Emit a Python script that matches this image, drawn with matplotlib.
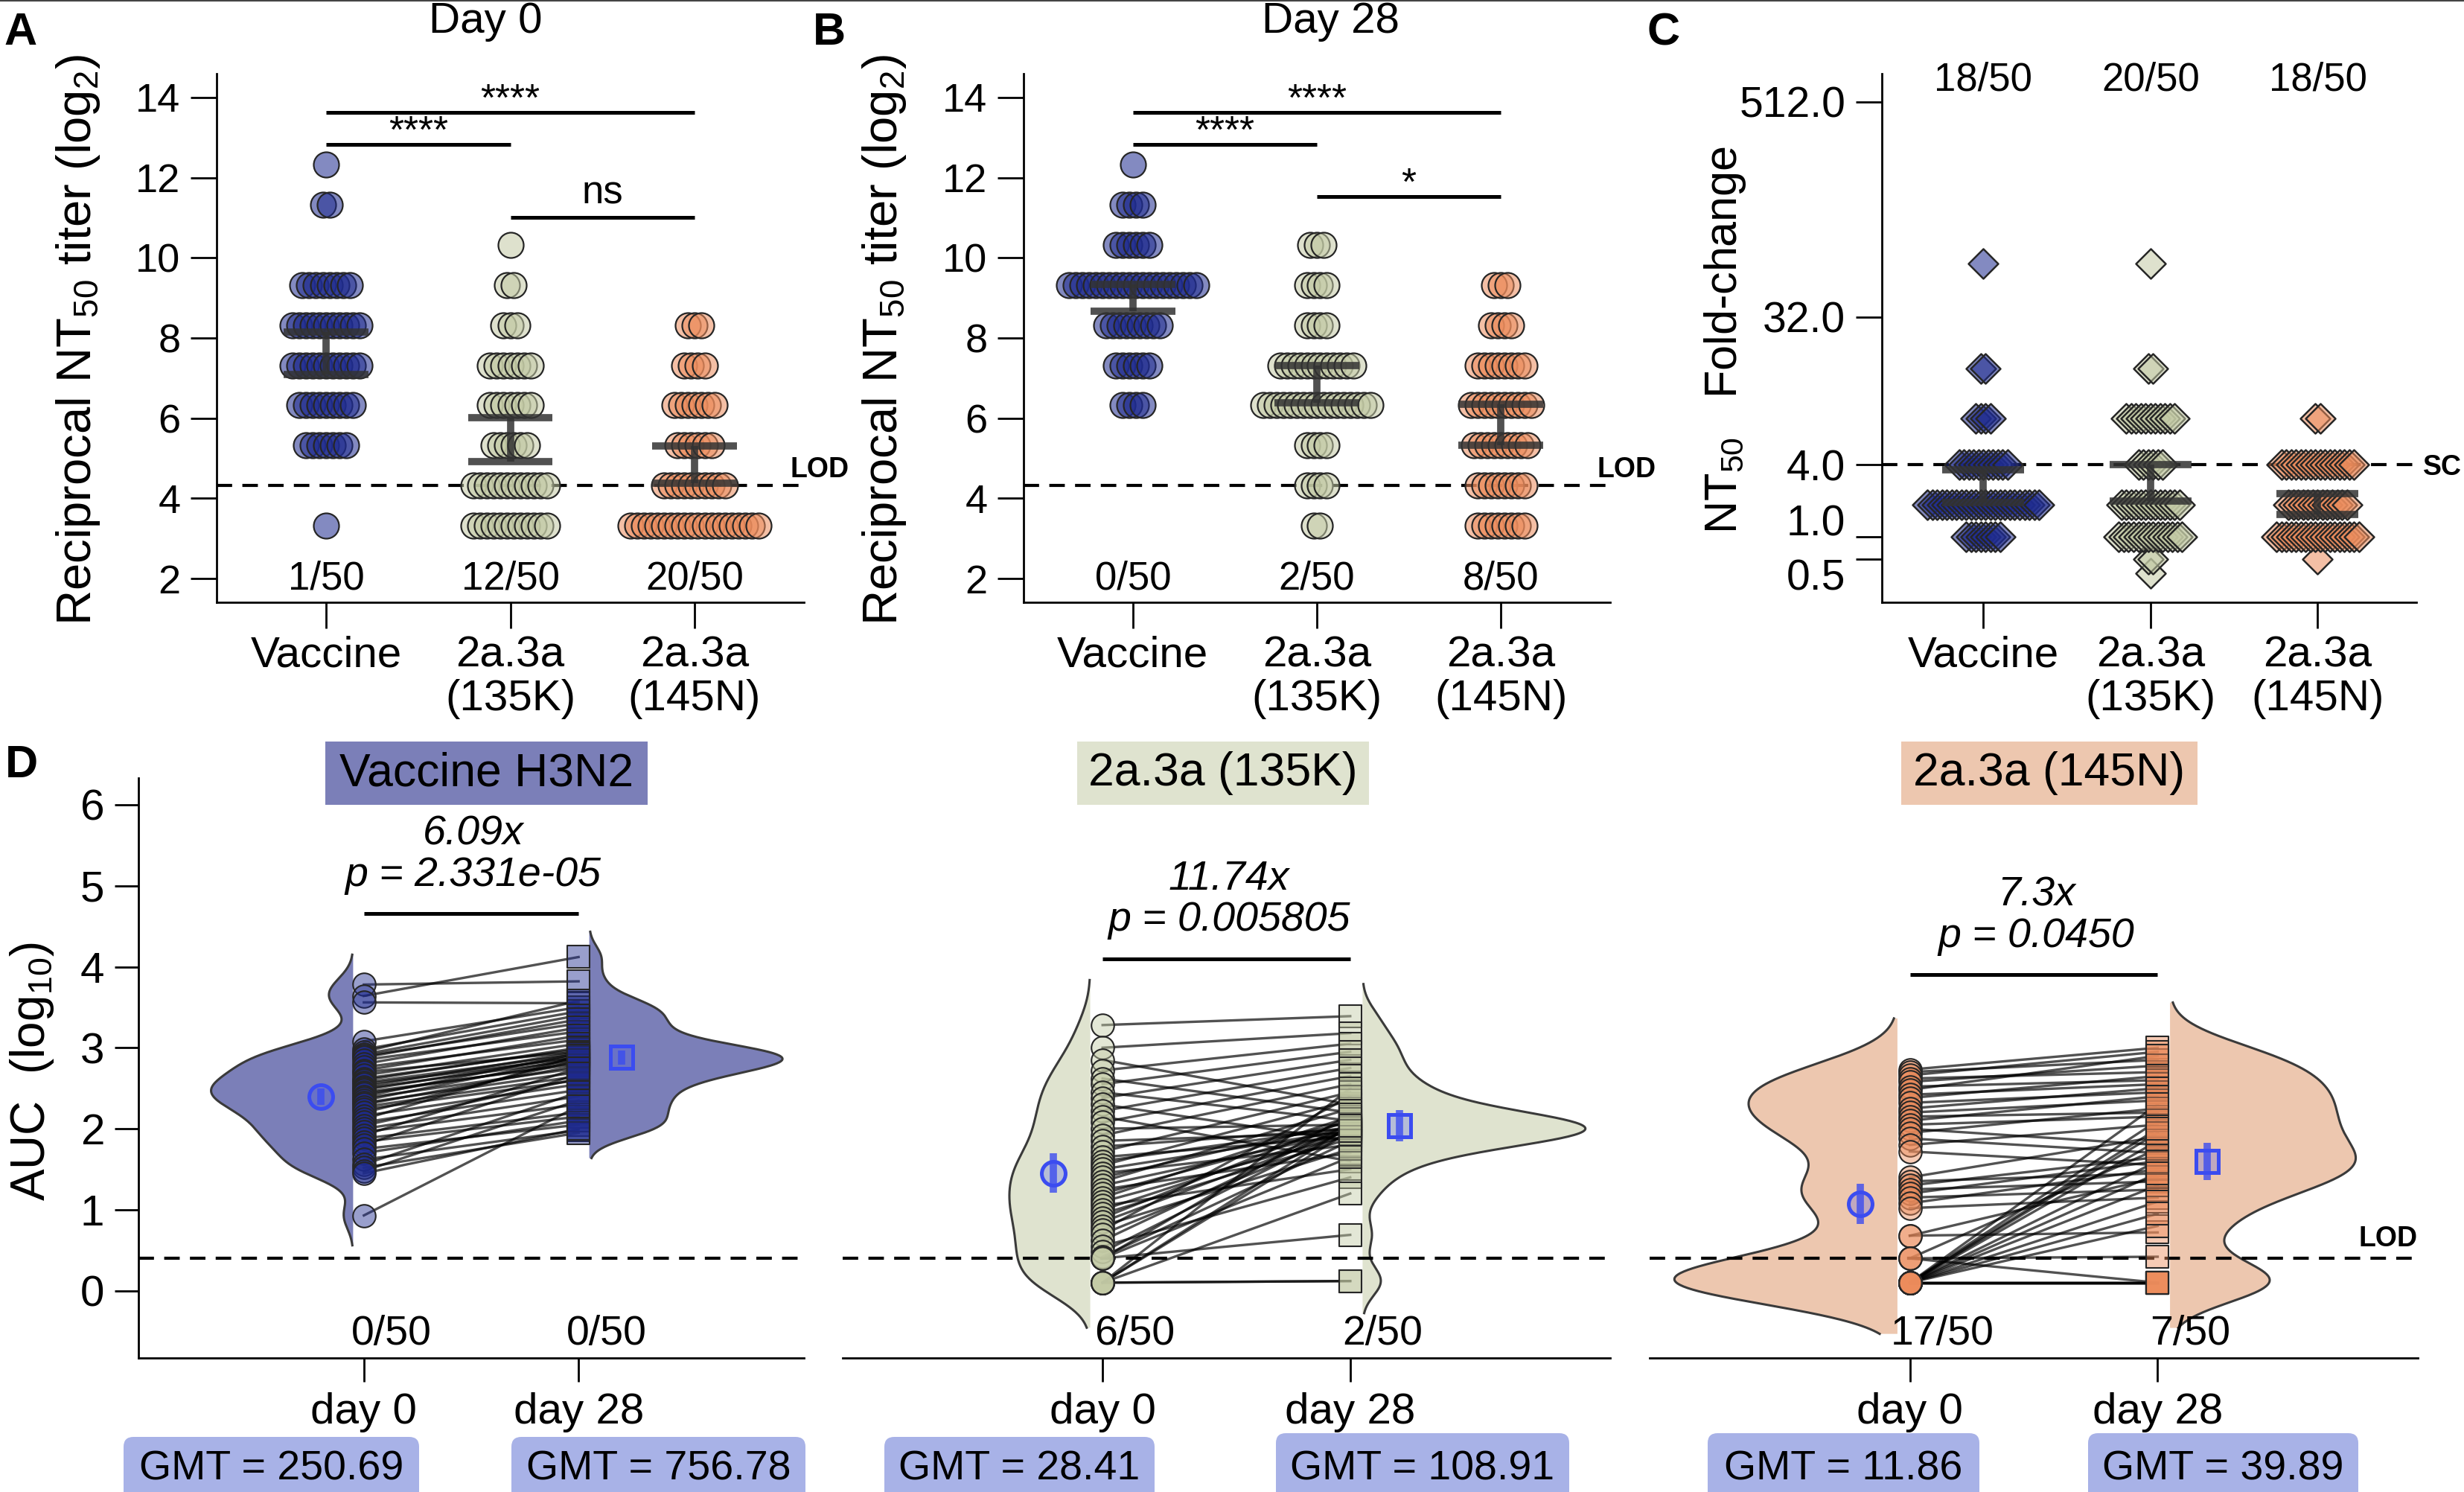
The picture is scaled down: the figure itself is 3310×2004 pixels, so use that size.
import numpy as np
import matplotlib
matplotlib.use("Agg")
import matplotlib.pyplot as plt
from matplotlib import mlab
from matplotlib.colors import to_rgba
from matplotlib.patches import Rectangle, FancyBboxPatch
from matplotlib.lines import Line2D
from matplotlib.transforms import ScaledTranslation

plt.rcParams['font.family'] = ['Liberation Sans', 'DejaVu Sans']
plt.rcParams['mathtext.fontset'] = 'custom'
plt.rcParams['mathtext.rm'] = 'Liberation Sans'
plt.rcParams['mathtext.it'] = 'Liberation Sans:italic'

W, H = 3310, 2004

# ---------------- data: panels A / B (reciprocal NT50 titers) ----------------
groups = ["Vaccine", "2a.3a\n(135K)", "2a.3a\n(145N)"]
titer_levels = [10, 20, 40, 80, 160, 320, 640, 1280, 2560, 5120]
lod_titer = 20

# number of sera at each titer level (per group)
d0_counts = [[1, 0, 7, 9, 11, 11, 8, 0, 2, 1],
             [12, 12, 6, 7, 7, 3, 2, 1, 0, 0],
             [20, 10, 6, 7, 4, 3, 0, 0, 0, 0]]
d28_counts = [[0, 0, 0, 4, 6, 9, 20, 6, 4, 1],
              [2, 4, 4, 17, 12, 4, 4, 3, 0, 0],
              [8, 8, 9, 10, 8, 4, 3, 0, 0, 0]]
# mean with 95% CI (log2)
d0_ci = [(7.09, 8.15), (4.92, 6.01), (4.38, 5.31)]
d28_ci = [(8.67, 9.33), (6.39, 7.32), (5.33, 6.35)]
d0_below = ["1/50", "12/50", "20/50"]
d28_below = ["0/50", "2/50", "8/50"]
d0_sig = [(0, 2, "****"), (0, 1, "****"), (1, 2, "ns")]
d0_sig_y = [13.62, 12.82, 11.01]
d28_sig = [(0, 2, "****"), (0, 1, "****"), (1, 2, "*")]
d28_sig_y = [13.62, 12.82, 11.52]

# ---------------- data: panel C (fold change) ----------------
fold_levels = [0.25, 0.5, 1, 2, 4, 8, 16, 64]
fold_counts = [[0, 0, 8, 24, 11, 4, 2, 1],
               [1, 2, 14, 13, 6, 11, 2, 1],
               [0, 1, 18, 13, 16, 2, 0, 0]]
fold_ci = [(2.10, 3.71), (2.16, 4.03), (1.64, 2.47)]
fold_sc = ["18/50", "20/50", "18/50"]
fold_ticks = [0.5, 1.0, 4.0, 32.0, 512.0]
sc_fold = 4.0

# ---------------- data: panel D (AUC, log10) ----------------
auc_names = ["Vaccine H3N2", "2a.3a (135K)", "2a.3a (145N)"]
vac_d0 = [3.78, 3.64, 3.56, 3.08, 2.98, 2.95, 2.92, 2.90, 2.88, 2.85,
          2.80, 2.76, 2.72, 2.70, 2.66, 2.62, 2.60, 2.57, 2.55, 2.52,
          2.50, 2.48, 2.45, 2.43, 2.40, 2.38, 2.35, 2.32, 2.30, 2.27,
          2.24, 2.20, 2.16, 2.12, 2.08, 2.04, 2.00, 1.96, 1.92, 1.88,
          1.84, 1.80, 1.75, 1.70, 1.62, 1.56, 1.52, 1.48, 1.45, 0.93]
vac_d28 = [3.82, 4.12, 3.55, 3.50, 3.45, 3.58, 3.40, 3.30, 3.35, 3.20,
           3.25, 3.10, 3.15, 2.95, 3.05, 2.98, 3.00, 2.92, 2.88, 2.95,
           2.85, 2.90, 2.80, 2.82, 2.93, 2.75, 2.88, 2.70, 2.78, 2.65,
           2.60, 2.85, 2.55, 2.90, 2.48, 2.62, 2.40, 2.30, 2.75, 2.20,
           2.15, 2.68, 2.05, 2.10, 1.98, 2.45, 1.95, 2.35, 2.00, 2.28]
k135_d0 = [3.28, 3.00, 2.85, 2.72, 2.62, 2.55, 2.45, 2.38, 2.30, 2.22,
           2.15, 2.08, 2.00, 1.92, 1.85, 1.78, 1.72, 1.65, 1.60, 1.55,
           1.50, 1.45, 1.40, 1.35, 1.30, 1.25, 1.20, 1.15, 1.10, 1.05,
           1.00, 0.95, 0.90, 0.85, 0.80, 0.75, 0.70, 0.62, 0.55, 0.48,
           0.42, 0.40, 0.40, 0.40, 0.10, 0.10, 0.10, 0.10, 0.10, 0.10]
k135_d28 = [3.39, 3.18, 2.30, 3.05, 2.20, 2.95, 2.10, 2.85, 1.85, 2.75,
            1.60, 2.65, 2.05, 2.55, 1.95, 2.00, 2.45, 1.90, 2.02, 2.35,
            1.98, 1.80, 2.08, 2.25, 1.96, 1.70, 2.03, 2.15, 1.92, 1.50,
            2.00, 1.88, 2.12, 1.99, 1.75, 2.40, 1.94, 2.06, 1.40, 2.01,
            1.85, 0.69, 2.18, 1.65, 0.12, 0.12, 1.97, 2.50, 1.20, 2.04]
n145_d0 = [2.73, 2.70, 2.66, 2.62, 2.58, 2.52, 2.48, 2.42, 2.38, 2.32,
           2.25, 2.20, 2.15, 2.10, 2.05, 2.00, 1.95, 1.88, 1.80, 1.72,
           1.40, 1.35, 1.30, 1.25, 1.20, 1.15, 1.08, 1.02, 0.68, 0.68,
           0.40, 0.40, 0.40, 0.10, 0.10, 0.10, 0.10, 0.10, 0.10, 0.10,
           0.10, 0.10, 0.10, 0.10, 0.10, 0.10, 0.10, 0.10, 0.10, 0.10]
n145_d28 = [3.00, 2.85, 2.95, 2.70, 2.78, 2.60, 2.90, 2.55, 2.65, 2.45,
            2.50, 2.35, 2.20, 2.40, 2.15, 1.80, 2.25, 1.70, 2.05, 1.55,
            1.90, 1.45, 1.65, 1.35, 1.60, 1.25, 1.50, 1.15, 1.40, 0.72,
            1.75, 0.42, 0.10, 0.10, 0.10, 0.10, 0.10, 0.10, 0.10, 2.10,
            1.85, 1.60, 2.30, 1.95, 1.30, 2.00, 0.80, 1.10, 0.95, 1.45]
auc_d0 = [vac_d0, k135_d0, n145_d0]
auc_d28 = [vac_d28, k135_d28, n145_d28]
fold_text = ["6.09x", "11.74x", "7.3x"]
p_text = ["p = 2.331e-05", "p = 0.005805", "p = 0.0450"]
gmt_d0 = [250.69, 28.41, 11.86]
gmt_d28 = [756.78, 108.91, 39.89]
gmt_ci = [(0.10, 0.09), (0.24, 0.19), (0.25, 0.23)]
auc_below_d0 = ["0/50", "6/50", "17/50"]
auc_below_d28 = ["0/50", "2/50", "7/50"]
auc_sig_y = [4.66, 4.10, 3.90]
auc_lod = 0.4

# ---------------- style ----------------
dot_colors = ['#1E2B8F', '#C3CAA5', '#EC8C5C']
soft_colors = ['#7B7FB8', '#DFE3CF', '#EDC7AF']
gmt_box = '#A8B2E7'
mean_blue = '#3B4CF0'
edge = '#262626'
DASH = dict(color='k', lw=3.0, dashes=(5, 3.3))

fig = plt.figure(figsize=(W / 100, H / 100), dpi=100)


def add_ax(l, t, r, b):
    return fig.add_axes([l / W, 1 - b / H, (r - l) / W, (b - t) / H])


def ftext(x, y, s, **kw):
    return fig.text(x / W, 1 - y / H, s, **kw)


def style(ax, left=True, ticklen=25, xsize=42, ysize=39):
    for sp in ['top', 'right']:
        ax.spines[sp].set_visible(False)
    ax.spines['left'].set_visible(left)
    for sp in ['left', 'bottom']:
        ax.spines[sp].set_linewidth(2)
    ax.tick_params(axis='x', length=ticklen, width=2, pad=7, labelsize=xsize)
    ax.tick_params(axis='y', length=ticklen, width=2, pad=10, labelsize=ysize,
                   left=left, labelleft=left)


def rows(x0, levels, counts, step):
    xs, ys = [], []
    for lv, n in zip(levels, counts):
        xs.extend(x0 + (np.arange(n) - (n - 1) / 2) * step)
        ys.extend([lv] * n)
    return xs, ys


def ci_bar(ax, x, lo, hi, half):
    ax.hlines([lo, hi], x - half, x + half, color='#333333', alpha=0.85, lw=7, zorder=4)
    ax.vlines(x, lo, hi, color='#333333', alpha=0.85, lw=7, zorder=4)


# ---------------- panels A and B ----------------
levels_log2 = np.log2(titer_levels)
panelsAB = [
    ((291, 99, 1080, 809), d0_counts, d0_ci, d0_below, d0_sig, d0_sig_y),
    ((1375, 99, 2163, 809), d28_counts, d28_ci, d28_below, d28_sig, d28_sig_y),
]
for box, counts, cis, below, sigs, sig_y in panelsAB:
    ax = add_ax(*box)
    style(ax)
    for gi in range(3):
        xs, ys = rows(gi, levels_log2, counts[gi], 0.0364)
        ax.scatter(xs, ys, s=600, fc=to_rgba(dot_colors[gi], 0.55), ec=edge, lw=1.6, zorder=3)
        ci_bar(ax, gi, cis[gi][0], cis[gi][1], 0.23)
        ax.text(gi, 2.0, below[gi], ha='center', va='center', fontsize=38)
    ax.axhline(np.log2(lod_titer), zorder=2, **DASH)
    for (a, b, lab), y in zip(sigs, sig_y):
        ax.plot([a, b], [y, y], color='k', lw=3.6, solid_capstyle='butt')
        if lab == "ns":
            ax.text((a + b) / 2, y + 0.34, lab, ha='center', va='baseline', fontsize=38)
        else:
            ax.text((a + b) / 2, y + 0.05, lab, ha='center', va='baseline', fontsize=37)
    ax.set_xlim(-0.594, 2.594)
    ax.set_ylim(1.41, 14.59)
    ax.set_yticks(range(2, 15, 2))
    ax.set_xticks(range(3))
    ax.set_xticklabels(groups, linespacing=1.1)

ftext(652, 29, "Day 0", ha='center', va='center', fontsize=42)
ftext(1787, 29, "Day 28", ha='center', va='center', fontsize=42)
ylab = "Reciprocal NT$_{50}$ titer (log$_{2}$)"
ftext(105, 456, ylab, rotation=90, ha='center', va='center', fontsize=47)
ftext(1188, 456, ylab, rotation=90, ha='center', va='center', fontsize=47)
ftext(1062, 631, "LOD", ha='left', va='center', fontsize=27, fontweight='bold')
ftext(2145, 631, "LOD", ha='left', va='center', fontsize=27, fontweight='bold')

# ---------------- panel C ----------------
axc = add_ax(2528, 99, 3246, 809)
style(axc, ysize=41)
t_levels = np.log2(np.array(fold_levels) + 1)
for gi in range(3):
    xs, ys = rows(gi, t_levels, fold_counts[gi], 0.029)
    axc.scatter(xs, ys, s=415, marker='D', fc=to_rgba(dot_colors[gi], 0.55), ec=edge,
                lw=1.8, zorder=3)
    lo, hi = np.log2(np.array(fold_ci[gi]) + 1)
    ci_bar(axc, gi, lo, hi, 0.245)
    axc.text(gi, 9.40, fold_sc[gi], ha='center', va='center', fontsize=38)
axc.axhline(np.log2(sc_fold + 1), zorder=2, **DASH)
axc.set_xlim(-0.606, 2.59)
axc.set_ylim(-0.21, 9.52)
axc.set_yticks(np.log2(np.array(fold_ticks) + 1))
axc.set_yticklabels([f"{v:.1f}" for v in fold_ticks])
lab_shift = {0: -0.21, 1: 0.22}
for i, lab in enumerate(axc.get_yticklabels()):
    if i in lab_shift:
        lab.set_transform(lab.get_transform() +
                          ScaledTranslation(0, lab_shift[i], fig.dpi_scale_trans))
axc.set_xticks(range(3))
axc.set_xticklabels(groups, linespacing=1.1)
ftext(2317, 456, "NT$_{50}$   Fold-change", rotation=90, ha='center', va='center', fontsize=44)
ftext(3255, 628, "SC", ha='left', va='center', fontsize=27, fontweight='bold')

# ---------------- panel D ----------------
d_boxes = [(186, 1045, 1080, 1824), (1132, 1045, 2163, 1824), (2216, 1045, 3248, 1824)]
head_boxes = [(437, 996, 870, 1081), (1447, 996, 1839, 1081), (2554, 996, 2952, 1081)]
gmt_boxes = [[(166, 1930, 563), (687, 1930, 1082)],
             [(1188, 1930, 1551), (1714, 1925, 2108)],
             [(2294, 1925, 2659), (2805, 1925, 3168)]]

for gi in range(3):
    ax = add_ax(*d_boxes[gi])
    style(ax, left=(gi == 0), ticklen=23, xsize=42, ysize=42)
    d0 = np.array(auc_d0[gi])
    d28 = np.array(auc_d28[gi])

    # half violins, area-normalised and scaled so the widest reaches 0.9
    curves = []
    for data in (d0, d28):
        kde = mlab.GaussianKDE(data, 0.29)
        bw = kde.factor * np.std(data, ddof=1)
        yy = np.linspace(data.min() - 2.2 * bw, data.max() + 2.2 * bw, 400)
        curves.append((yy, kde.evaluate(yy)))
    scale = 0.9 / max(c[1].max() for c in curves)
    for (yy, dens), base, side in zip(curves, (0.95, 2.05), (-1, 1)):
        xx = base + side * dens * scale
        ax.fill_betweenx(yy, base, xx, fc=soft_colors[gi], lw=0, zorder=1)
        ax.plot(xx, yy, color='#3a3a3a', lw=2.2, zorder=1.5)

    for a, b in zip(d0, d28):
        ax.plot([1, 2], [a, b], color='k', alpha=0.68, lw=2.4, zorder=2)
    ax.scatter(np.ones(len(d0)), d0, s=484, marker='o', fc=to_rgba(dot_colors[gi], 0.45),
               ec=edge, lw=1.5, zorder=3)
    ax.scatter(np.full(len(d28), 2.0), d28, s=441, marker='s', fc=to_rgba(dot_colors[gi], 0.45),
               ec=edge, lw=1.5, zorder=3)

    for x, g, e, m, ms in ((0.8, gmt_d0[gi], gmt_ci[gi][0], 'o', 23),
                           (2.2, gmt_d28[gi], gmt_ci[gi][1], 's', 21)):
        ax.errorbar([x], [np.log10(g)], yerr=[e], fmt=m, ms=ms, mfc=to_rgba(mean_blue, 0.25),
                    mec=mean_blue, mew=3.6, ecolor=to_rgba(mean_blue, 0.8), elinewidth=7,
                    capsize=0, zorder=5)

    ax.axhline(auc_lod, zorder=2.5, **DASH)
    sy = auc_sig_y[gi]
    ax.plot([1, 2], [sy, sy], color='k', lw=3.6, solid_capstyle='butt')
    ax.text(1.51, sy + 0.98, fold_text[gi], ha='center', va='center', fontsize=40, style='italic')
    ax.text(1.51, sy + 0.47, p_text[gi], ha='center', va='center', fontsize=40, style='italic')
    ax.text(1.13, -0.54, auc_below_d0[gi], ha='center', va='center', fontsize=40)
    ax.text(2.13, -0.54, auc_below_d28[gi], ha='center', va='center', fontsize=40)

    ax.set_xlim(-0.05, 3.05)
    ax.set_ylim(-0.83, 6.33)
    ax.set_xticks([1, 2])
    ax.set_xticklabels(["day 0", "day 28"])
    ax.tick_params(axis='x', pad=10)
    if gi == 0:
        ax.set_yticks(range(0, 7))

    l, t, r, b = head_boxes[gi]
    fig.add_artist(Rectangle((l / W, 1 - b / H), (r - l) / W, (b - t) / H,
                             transform=fig.transFigure, fc=soft_colors[gi], ec='none'))
    ftext((l + r) / 2, (t + b) / 2, auc_names[gi], ha='center', va='center', fontsize=45)

    for (l, t, r), g in zip(gmt_boxes[gi], (gmt_d0[gi], gmt_d28[gi])):
        fig.add_artist(FancyBboxPatch((l / W, 1 - 2060 / H), (r - l) / W, (2060 - t) / H,
                                      boxstyle="round,pad=0,rounding_size=0.004",
                                      transform=fig.transFigure, fc=gmt_box, ec='none',
                                      mutation_aspect=W / H))
        ftext((l + r) / 2, 1988, f"GMT = {g:.2f}", ha='center', va='baseline', fontsize=40)

ftext(43, 1439, "AUC  (log$_{10}$)", rotation=90, ha='center', va='center', fontsize=46)
ftext(3248, 1664, "LOD", ha='right', va='center', fontsize=27, fontweight='bold')

# panel letters
for lab, x, y in (("A", 28, 45), ("B", 1114, 45), ("C", 2235, 45), ("D", 29, 1029)):
    ftext(x, y, lab, ha='center', va='center', fontsize=44, fontweight='bold')

fig.add_artist(Line2D([0, 1], [1 - 1 / H, 1 - 1 / H], transform=fig.transFigure,
                      color='#444444', lw=1.5))

fig.savefig("out.png", dpi=100)
